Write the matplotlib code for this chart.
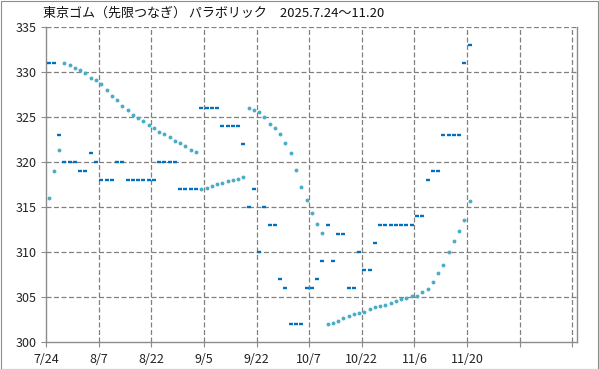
import matplotlib
matplotlib.use("Agg")
import matplotlib.pyplot as plt
import numpy as np
from matplotlib.patches import Rectangle

plt.rcParams['font.family'] = ['Noto Sans CJK JP', 'DejaVu Sans']

# closing prices per trading day (7/24 .. 11/20)
price = [331, 331, 323, 320, 320, 320, 319, 319, 321, 320,
         318, 318, 318, 320, 320, 318, 318, 318, 318, 318,
         318, 320, 320, 320, 320, 317, 317, 317, 317, 326,
         326, 326, 326, 324, 324, 324, 324, 322, 315, 317,
         310, 315, 313, 313, 307, 306, 302, 302, 302, 306,
         306, 307, 309, 313, 309, 312, 312, 306, 306, 310,
         308, 308, 311, 313, 313, 313, 313, 313, 313, 313,
         314, 314, 318, 319, 319, 323, 323, 323, 323, 331,
         333]

# parabolic SAR values
sar = [316.0, 319.0, 321.4, 331.0, 330.8, 330.5, 330.3, 329.9, 329.4, 329.1,
       328.7, 328.0, 327.4, 326.9, 326.3, 325.8, 325.3, 324.9, 324.6, 324.1,
       323.8, 323.4, 323.1, 322.8, 322.4, 322.2, 321.8, 321.4, 321.1, 317.0,
       317.2, 317.4, 317.6, 317.7, 317.9, 318.0, 318.2, 318.4, 326.0, 325.8,
       325.6, 325.0, 324.3, 323.8, 323.2, 322.2, 321.0, 319.1, 317.3, 315.8,
       314.4, 313.2, 312.1, 302.0, 302.2, 302.4, 302.7, 302.9, 303.1, 303.3,
       303.4, 303.7, 303.9, 304.0, 304.2, 304.4, 304.6, 304.8, 304.9, 305.1,
       305.2, 305.6, 305.9, 306.7, 307.7, 308.6, 310.0, 311.3, 312.4, 313.6,
       315.7]

tick_labels = ["7/24", "8/7", "8/22", "9/5", "9/22", "10/7", "10/22", "11/6", "11/20", "", ""]
title = "東京ゴム（先限つなぎ） パラボリック　2025.7.24～11.20"

W, H = 599, 369
fig = plt.figure(figsize=(W / 100, H / 100), dpi=100)
fig.patch.set_facecolor("white")
fig.patches.append(Rectangle((0.5 / W, 0.5 / H), 1 - 1.5 / W, 1 - 1.5 / H,
                             transform=fig.transFigure, fill=False,
                             edgecolor="#8c8c8c", linewidth=0.8))

left, right, top, bottom = 46, 577, 27.3, 342.3
ax = fig.add_axes([left / W, (H - bottom) / H, (right - left) / W, (bottom - top) / H])

x = np.arange(len(price)) + 0.5
ax.plot(x, sar, linestyle="none", marker="o", markersize=2.8,
        color="#4bacc6", markeredgewidth=0, zorder=3)
ax.plot(x, price, linestyle="none", marker="_", markersize=3.3,
        markeredgewidth=1.7, color="#0070c0", zorder=4)

ax.set_xlim(0, 100.9)
ax.set_ylim(300, 335)
ax.set_xticks(np.arange(0, 101, 10))
ax.set_xticklabels(tick_labels)
ax.set_yticks(np.arange(300, 336, 5))

gridc = "#808080"
for xv in range(10, 101, 10):
    ax.axvline(xv, color=gridc, linestyle=(0, (4, 2)), linewidth=0.9, zorder=1)
for yv in range(305, 336, 5):
    ax.axhline(yv, color=gridc, linestyle=(0, (4, 2)), linewidth=0.9, zorder=1)

for s in ["left", "bottom", "right"]:
    ax.spines[s].set_color("#8c8c8c")
    ax.spines[s].set_linewidth(1.0)
ax.spines["top"].set_visible(False)

ax.tick_params(axis="both", colors="#8c8c8c", labelcolor="#222222",
               labelsize=9, length=3.5, width=0.8)
ax.tick_params(axis="x", pad=4)
ax.tick_params(axis="y", pad=3)

fig.text(43 / W, 1 - 13 / H, title, fontsize=9.4, color="#111111",
         ha="left", va="center")

fig.savefig("out.png", dpi=100)
